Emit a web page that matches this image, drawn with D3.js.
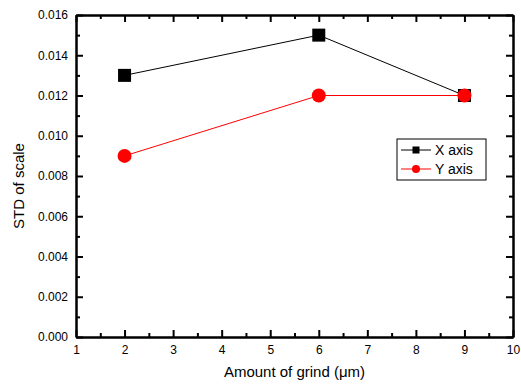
<!DOCTYPE html>
<html>
<head>
<meta charset="utf-8">
<script src="https://cdn.jsdelivr.net/npm/d3@7"></script>
<style>
  body { margin: 0; background: white; }
  text { font-family: "Liberation Sans", Arial, sans-serif; }
</style>
</head>
<body>
<svg id="chart" width="521" height="385"></svg>
<script>
var grind = [2, 6, 9];
var xAxisStd = [0.013, 0.015, 0.012];
var yAxisStd = [0.009, 0.012, 0.012];
var xTicks = [1, 2, 3, 4, 5, 6, 7, 8, 9, 10];
var yTicks = [0, 0.002, 0.004, 0.006, 0.008, 0.010, 0.012, 0.014, 0.016];
var seriesNames = ["X axis", "Y axis"];

function draw_chart(id) {
    "use strict";
    var left = 76, right = 513, top = 15, bottom = 337;
    var svg = d3.select(id);

    var x = d3.scaleLinear().domain([1, 10]).range([left, right]);
    var y = d3.scaleLinear().domain([0, 0.016]).range([bottom, top]);

    var xMinor = d3.range(1.5, 10, 1);
    var yMinor = d3.range(0.001, 0.016, 0.002);

    // bottom axis, ticks inward
    var bx = svg.append("g").attr("transform", "translate(0," + bottom + ")")
        .call(d3.axisBottom(x).tickValues(xTicks).tickSizeInner(-7).tickSizeOuter(0)
            .tickPadding(8).tickFormat(d3.format("d")));
    svg.append("g").attr("transform", "translate(0," + bottom + ")")
        .call(d3.axisBottom(x).tickValues(xMinor).tickSizeInner(-4).tickSizeOuter(0).tickFormat(""));
    // top axis
    svg.append("g").attr("transform", "translate(0," + top + ")")
        .call(d3.axisTop(x).tickValues(xTicks).tickSizeInner(-7).tickSizeOuter(0).tickFormat(""));
    svg.append("g").attr("transform", "translate(0," + top + ")")
        .call(d3.axisTop(x).tickValues(xMinor).tickSizeInner(-4).tickSizeOuter(0).tickFormat(""));
    // left axis
    svg.append("g").attr("transform", "translate(" + left + ",0)")
        .call(d3.axisLeft(y).tickValues(yTicks).tickSizeInner(-7).tickSizeOuter(0)
            .tickPadding(8).tickFormat(d3.format(".3f")));
    svg.append("g").attr("transform", "translate(" + left + ",0)")
        .call(d3.axisLeft(y).tickValues(yMinor).tickSizeInner(-4).tickSizeOuter(0).tickFormat(""));
    // right axis
    svg.append("g").attr("transform", "translate(" + right + ",0)")
        .call(d3.axisRight(y).tickValues(yTicks).tickSizeInner(-7).tickSizeOuter(0).tickFormat(""));
    svg.append("g").attr("transform", "translate(" + right + ",0)")
        .call(d3.axisRight(y).tickValues(yMinor).tickSizeInner(-4).tickSizeOuter(0).tickFormat(""));

    svg.selectAll(".domain").attr("stroke", "#000").attr("stroke-width", 2);
    svg.selectAll(".tick line").attr("stroke", "#000").attr("stroke-width", 2);
    svg.selectAll(".tick text").attr("font-size", "12px").attr("fill", "#000")
        .attr("font-family", "Liberation Sans, Arial, sans-serif");
    bx.selectAll(".tick text").attr("dy", "0.71em");

    // axis titles
    svg.append("text").attr("x", (left + right) / 2).attr("y", 377)
        .attr("text-anchor", "middle").attr("font-size", "15px")
        .text("Amount of grind (\u03bcm)");
    svg.append("text")
        .attr("transform", "translate(24,186) rotate(-90)")
        .attr("text-anchor", "middle").attr("font-size", "15px")
        .text("STD of scale");

    var line = d3.line()
        .x(function(d, i) { return x(grind[i]); })
        .y(function(d) { return y(d); });

    // X axis series
    svg.append("path").datum(xAxisStd).attr("d", line)
        .attr("fill", "none").attr("stroke", "#000").attr("stroke-width", 1);
    var sq = 13;
    svg.selectAll(".sq").data(xAxisStd).enter().append("rect")
        .attr("x", function(d, i) { return x(grind[i]) - sq / 2; })
        .attr("y", function(d) { return y(d) - sq / 2; })
        .attr("width", sq).attr("height", sq).attr("fill", "#000");

    // Y axis series
    svg.append("path").datum(yAxisStd).attr("d", line)
        .attr("fill", "none").attr("stroke", "red").attr("stroke-width", 1);
    svg.selectAll(".dot").data(yAxisStd).enter().append("circle")
        .attr("cx", function(d, i) { return x(grind[i]); })
        .attr("cy", function(d) { return y(d); })
        .attr("r", 7).attr("fill", "red");

    // legend
    var lg = svg.append("g").attr("transform", "translate(397,139)");
    lg.append("rect").attr("width", 89).attr("height", 41)
        .attr("fill", "white").attr("stroke", "#000").attr("stroke-width", 1);
    var colors = ["#000", "red"];
    seriesNames.forEach(function(name, i) {
        var cy = 11 + i * 19;
        lg.append("line").attr("x1", 4).attr("x2", 34).attr("y1", cy).attr("y2", cy)
            .attr("stroke", colors[i]).attr("stroke-width", 1);
        if (i === 0) {
            lg.append("rect").attr("x", 15.5).attr("y", cy - 3.5).attr("width", 7).attr("height", 7)
                .attr("fill", "#000");
        } else {
            lg.append("circle").attr("cx", 19).attr("cy", cy).attr("r", 4).attr("fill", "red");
        }
        lg.append("text").attr("x", 38).attr("y", cy + 5).attr("font-size", "14px")
            .attr("fill", "#000").text(name);
    });
}

draw_chart("#chart");
</script>
</body>
</html>
